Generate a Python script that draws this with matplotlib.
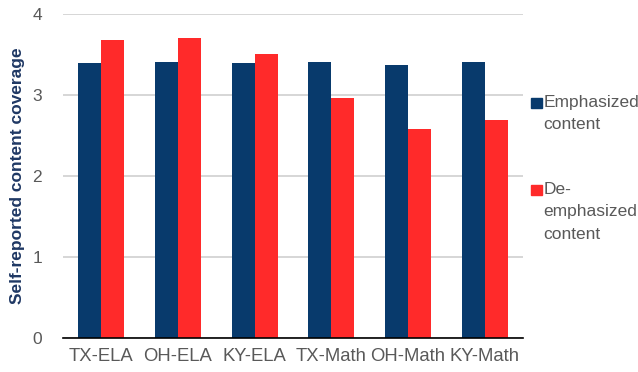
import numpy as np
import matplotlib.pyplot as plt
from matplotlib.patches import Rectangle

plt.rcParams['font.family'] = ['Liberation Sans', 'DejaVu Sans']

categories = ["TX-ELA", "OH-ELA", "KY-ELA", "TX-Math", "OH-Math", "KY-Math"]
emphasized = [3.39, 3.41, 3.39, 3.41, 3.37, 3.41]
de_emphasized = [3.68, 3.70, 3.50, 2.96, 2.58, 2.69]
series_labels = ["Emphasized\ncontent", "De-\nemphasized\ncontent"]

navy = "#083a6c"
red = "#ff2a2a"
grey = "#595959"

fig = plt.figure(figsize=(6.38, 3.72), dpi=100)
ax = fig.add_axes([0.0987, 0.0914, 0.721, 0.871])

x = np.arange(len(categories))
w = 0.3
ax.bar(x - w / 2, emphasized, w, color=navy, zorder=3)
ax.bar(x + w / 2, de_emphasized, w, color=red, zorder=3)

ax.set_xlim(-0.5, len(categories) - 0.5)
ax.set_ylim(0, 4)
ax.set_yticks([0, 1, 2, 3, 4])
ax.set_xticks(x)
ax.set_xticklabels(categories)
ax.grid(axis="y", color="#d0d0d0", linewidth=1.2, zorder=0)
for s in ["top", "right", "left"]:
    ax.spines[s].set_visible(False)
ax.spines["bottom"].set_color("black")
ax.spines["bottom"].set_linewidth(1.2)
ax.spines["bottom"].set_zorder(4)
ax.tick_params(axis="both", length=0, colors=grey)
ax.tick_params(axis="y", pad=15, labelsize=12.5)
ax.tick_params(axis="x", pad=7, labelsize=13.3)
ax.set_ylabel("Self-reported content coverage", fontsize=12.5, fontweight="bold",
              color="#1f3864", labelpad=5)

# legend drawn by hand so the square sits beside the first line
for col, lab, ytop in [(navy, series_labels[0], 0.745), (red, series_labels[1], 0.51)]:
    fig.add_artist(Rectangle((0.833, ytop - 0.035), 0.016, 0.027,
                             transform=fig.transFigure, color=col))
    fig.text(0.852, ytop, lab, fontsize=12.5, color=grey, va="top", ha="left",
             linespacing=1.6)

fig.savefig("out.png", dpi=100)
